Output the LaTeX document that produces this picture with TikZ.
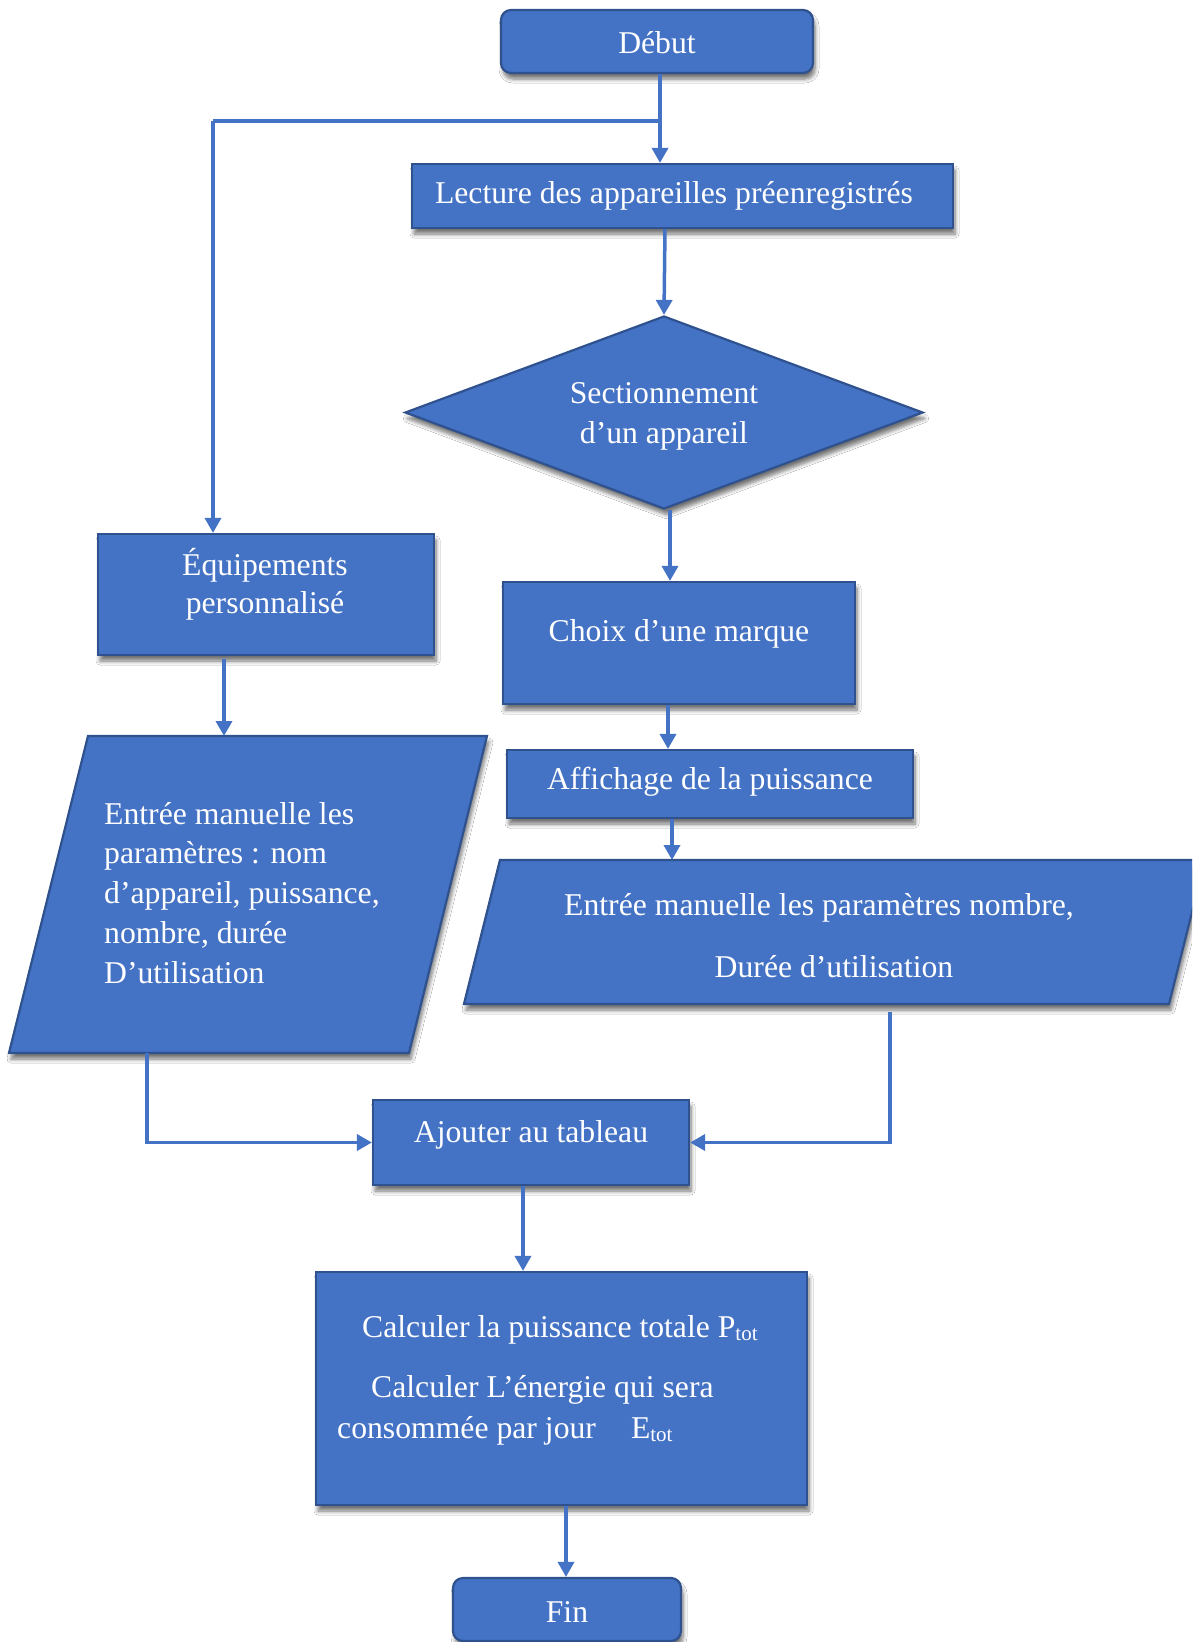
\documentclass[tikz,border=0pt]{standalone}
\usepackage{fontspec}
\setmainfont{Liberation Serif}
\usetikzlibrary{shapes.geometric,arrows.meta,shadows.blur}
\definecolor{boxblue}{HTML}{4472C4}
\definecolor{edgeblue}{HTML}{2F528F}
\newcommand\subtot{\raisebox{-3pt}{\fontsize{21}{21}\selectfont tot}}
\tikzset{
  boxshadow/.style={blur shadow={shadow xshift=2pt, shadow yshift=-6pt,
      shadow blur radius=4pt, shadow blur steps=6, shadow opacity=55}},
  box/.style={draw=edgeblue, fill=boxblue, line width=2.2pt, inner sep=0pt,
      boxshadow},
  lbl/.style={text=white, inner sep=0pt,
      font=\fontsize{31.7}{39.7}\selectfont},
  link/.style={draw=boxblue, line width=3.5pt},
  flow/.style={link, -{Triangle[width=16pt,length=15pt]}}
}
\begin{document}
\begin{tikzpicture}[x=1pt, y=-1pt]
\useasboundingbox (0,0) rectangle (1192,1642);
\clip (0,0) rectangle (1192,1642);
\fill[white] (0,0) rectangle (1192,1642);

% process boxes
\node[box, rounded corners=10pt, minimum width=312pt, minimum height=63pt] (debut) at (657,41.5) {};
\node[box, minimum width=541pt, minimum height=64pt] (lecture) at (682.5,196) {};
\node[box, shape=diamond, aspect=2.68, minimum width=518pt, minimum height=193pt] (select) at (664,412.5) {};
\node[box, minimum width=336pt, minimum height=121pt] (equip) at (266,594.5) {};
\node[box, minimum width=352pt, minimum height=122pt] (choix) at (679,643) {};
\node[box, minimum width=406pt, minimum height=68pt] (affich) at (710,784) {};
\node[box, minimum width=316pt, minimum height=85pt] (ajout) at (531,1142.5) {};
\node[box, minimum width=491pt, minimum height=233pt] (calc) at (561.5,1388.5) {};
\node[box, rounded corners=10pt, minimum width=228pt, minimum height=63pt] (fin) at (567,1609.5) {};

% input/output parallelograms
\filldraw[box] (88,736) -- (487,736) -- (409,1053) -- (9,1053) -- cycle;
\filldraw[box] (500,860) -- (1205,860) -- (1169,1004) -- (464,1004) -- cycle;

% labels (multi-line labels sit on the baseline of their last line)
\node[lbl, anchor=base] (debutT) at (657,53) {Début};
\node[lbl, anchor=base] (lectureT) at (674,203) {Lecture des appareilles préenregistrés};
\node[lbl, anchor=base, align=center] (selectT) at (664,443) {Sectionnement\\d’un appareil};
\node[lbl, anchor=base, align=center, font=\fontsize{31.7}{38}\selectfont] (equipT) at (265,613) {Équipements\\personnalisé};
\node[lbl, anchor=base] (choixT) at (679,641) {Choix d’une marque};
\node[lbl, anchor=base] (affichT) at (710,789) {Affichage de la puissance};
\node[lbl, anchor=base west, align=left] (manuelT) at (104,983)
  {Entrée manuelle les\\paramètres : nom\\d’appareil, puissance,\\nombre, durée\\D’utilisation};
\node[lbl, anchor=base] (nombreT) at (819,915) {Entrée manuelle les paramètres nombre,};
\node[lbl, anchor=base] (dureeT) at (834,977) {Durée d’utilisation};
\node[lbl, anchor=base] (ajoutT) at (531,1142) {Ajouter au tableau};
\node[lbl, anchor=base west] (calcA) at (362,1337) {Calculer la puissance totale P\subtot};
\node[lbl, anchor=base west] (calcB) at (371,1397) {Calculer L’énergie qui sera};
\node[lbl, anchor=base west] (calcC) at (337,1438) {consommée par jour\hspace{35pt}E\subtot};
\node[lbl, anchor=base] (finT) at (567,1622) {Fin};

% connectors
\coordinate (split) at (660,121);
\coordinate (bend) at (213,121);
\coordinate (p1in) at (224,736);
\coordinate (p2in) at (672,860);
\coordinate (p1out) at (147,1053);
\coordinate (p2out) at (890,1012);

\draw[flow] (debut.south -| split) -- (lecture.north -| split);
\draw[link] (split) -- (bend);
\draw[flow] (bend) -- (bend |- equip.north);
\draw[flow] (lecture.south -| 665,0) -- (select.north);
\draw[flow] (select.south -| 670,0) -- (choix.north -| 670,0);
\draw[flow] (choix.south -| 668,0) -- (affich.north -| 668,0);
\draw[flow] (affich.south -| p2in) -- (p2in);
\draw[flow] ([yshift=-3pt]equip.south -| p1in) -- (p1in);
\draw[flow] (p1out) |- (ajout.west);
\draw[flow] (p2out) |- (ajout.east);
\draw[flow] (ajout.south -| 523,0) -- (calc.north -| 523,0);
\draw[flow] (calc.south -| 566,0) -- (fin.north -| 566,0);
\end{tikzpicture}
\end{document}
